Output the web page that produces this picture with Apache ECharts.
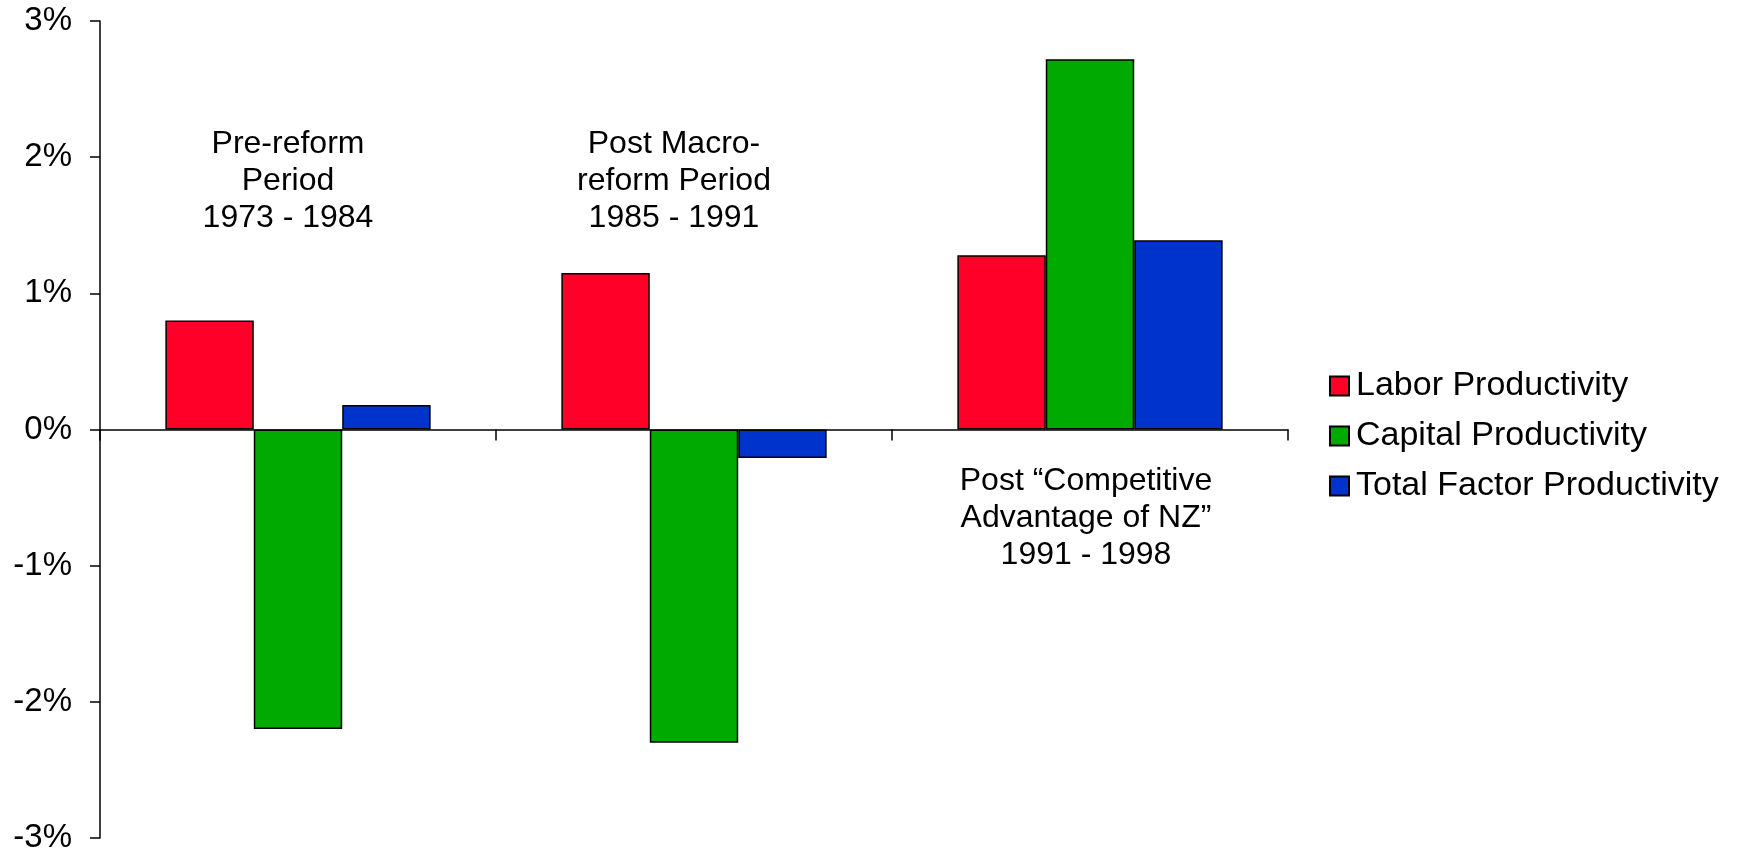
<!DOCTYPE html>
<html>
<head>
<meta charset="utf-8">
<style>
  html, body { margin: 0; padding: 0; background: #fff; }
  #chart { width: 1741px; height: 855px; }
</style>
<script src="https://cdn.jsdelivr.net/npm/echarts@6/dist/echarts.min.js"></script>
</head>
<body>
<div id="chart"></div>
<script>
// Productivity growth by period (% per year)
const periods = ['1973 - 1984', '1985 - 1991', '1991 - 1998'];
const laborProductivity = [0.80, 1.15, 1.28];
const capitalProductivity = [-2.20, -2.30, 2.72];
const tfpProductivity = [0.18, -0.21, 1.39];
const yTicks = { min: -3, max: 3, step: 1 };

const periodNotes = [
  'Pre-reform\nPeriod\n1973 - 1984',
  'Post Macro-\nreform Period\n1985 - 1991',
  'Post \u201cCompetitive\nAdvantage of NZ\u201d\n1991 - 1998'
];

const FONT = 'Liberation Sans, Arial, Helvetica, sans-serif';
const barBorder = { borderColor: '#000', borderWidth: 1.5 };

function barSeries(name, data, color) {
  return {
    name: name,
    type: 'bar',
    data: data,
    barGap: '0%',
    barCategoryGap: '33%',
    itemStyle: Object.assign({ color: color }, barBorder)
  };
}

const chart = echarts.init(document.getElementById('chart'), null, { renderer: 'canvas' });

const noteStyle = {
  fontFamily: FONT,
  fontSize: 32,
  lineHeight: 37,
  fill: '#000',
  align: 'center',
  verticalAlign: 'middle'
};

function note(text, x, y) {
  return { type: 'text', x: x, y: y, style: Object.assign({ text: text }, noteStyle) };
}

chart.setOption({
  animation: false,
  backgroundColor: '#fff',
  textStyle: { fontFamily: FONT },
  grid: { left: 100, right: 453, top: 21, bottom: 17, containLabel: false },
  legend: {
    orient: 'vertical',
    left: 1324,
    top: 364,
    icon: 'rect',
    itemWidth: 19,
    itemHeight: 19,
    itemGap: 16,
    textStyle: { fontFamily: FONT, fontSize: 34, color: '#000', padding: [0, 0, 0, 2] },
    data: ['Labor Productivity', 'Capital Productivity', 'Total Factor Productivity']
  },
  xAxis: {
    type: 'category',
    data: periods,
    axisLine: { onZero: true, lineStyle: { color: '#000', width: 1.5 } },
    axisTick: { show: true, inside: false, length: 11, alignWithLabel: false, lineStyle: { color: '#000', width: 1.5 } },
    axisLabel: { show: false },
    splitLine: { show: false }
  },
  yAxis: {
    type: 'value',
    min: yTicks.min,
    max: yTicks.max,
    interval: yTicks.step,
    axisLine: { show: true, lineStyle: { color: '#000', width: 1.5 } },
    axisTick: { show: true, length: 10, lineStyle: { color: '#000', width: 1.5 } },
    axisLabel: {
      margin: 28,
      fontFamily: FONT,
      fontSize: 33,
      color: '#000',
      formatter: '{value}%'
    },
    splitLine: { show: false }
  },
  series: [
    barSeries('Labor Productivity', laborProductivity, '#FF0029'),
    barSeries('Capital Productivity', capitalProductivity, '#00AA00'),
    barSeries('Total Factor Productivity', tfpProductivity, '#0033CC')
  ],
  graphic: [
    note(periodNotes[0], 288, 181),
    note(periodNotes[1], 674, 181),
    note(periodNotes[2], 1086, 518)
  ]
});
</script>
</body>
</html>
